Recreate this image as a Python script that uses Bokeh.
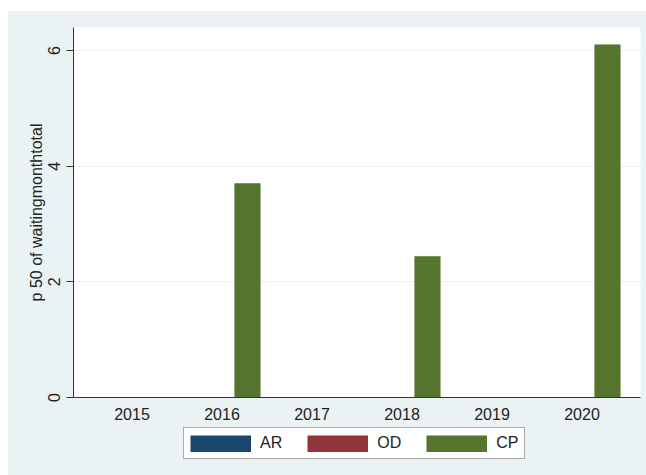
from bokeh.plotting import figure
from bokeh.models import (ColumnDataSource, FactorRange, Range1d, Legend, LegendItem,
                          FixedTicker, Spacer)
from bokeh.layouts import column, row
from bokeh.transform import dodge
from bokeh.embed import file_html
from bokeh.resources import INLINE

# ---- data ----
years = ["2015", "2016", "2017", "2018", "2019", "2020"]
ar = [0, 0, 0, 0, 0, 0]
od = [0, 0, 0, 0, 0, 0]
cp = [0, 3.70, 0, 2.44, 0, 6.10]
series_names = ["AR", "OD", "CP"]
series_colors = ["#1A476F", "#90353B", "#55752F"]
y_ticks = [0, 2, 4, 6]
y_title = "p 50 of waitingmonthtotal"

FONT = "Liberation Sans"
BG = "#EAF2F3"
TXT = "#222222"

source = ColumnDataSource(dict(year=years, AR=ar, OD=od, CP=cp))

p = figure(width=638, height=414, output_backend="svg", toolbar_location=None,
           x_range=FactorRange(*years, range_padding=0.05),
           y_range=Range1d(0, 6.4),
           min_border_left=65, min_border_right=6, min_border_top=16,
           min_border_bottom=28)
p.background_fill_color = "white"
p.border_fill_color = BG
p.outline_line_color = None

bw = 0.283
offsets = [-bw, 0.0, bw]
for name, col, off in zip(series_names, series_colors, offsets):
    p.vbar(x=dodge("year", off, range=p.x_range), top=name, width=bw, bottom=0,
           source=source, fill_color=col, line_color=col, line_width=0.6)

# grid
p.xgrid.grid_line_color = None
p.ygrid.grid_line_color = BG
p.ygrid.grid_line_width = 1
p.ygrid.ticker = FixedTicker(ticks=y_ticks)

# y axis
p.yaxis.ticker = FixedTicker(ticks=y_ticks)
p.yaxis.major_tick_out = 7
p.yaxis.major_tick_in = 0
p.yaxis.minor_tick_line_color = None
p.yaxis.major_label_orientation = "vertical"
p.yaxis.major_label_standoff = 7
p.yaxis.axis_label = y_title
p.yaxis.axis_label_standoff = 0
p.yaxis.axis_label_text_font_style = "normal"

# x axis
p.xaxis.major_tick_out = 0
p.xaxis.major_tick_in = 0
p.xaxis.major_label_standoff = 10

for ax in (p.xaxis, p.yaxis):
    ax.axis_line_color = "#333333"
    ax.major_tick_line_color = "#333333"
    ax.major_label_text_font = FONT
    ax.major_label_text_font_size = "16px"
    ax.major_label_text_color = TXT
    ax.axis_label_text_font = FONT
    ax.axis_label_text_font_size = "16px"
    ax.axis_label_text_color = TXT

# ---- legend strip (separate figure, frame aligned with the main one) ----
pl = figure(width=638, height=50, output_backend="svg", toolbar_location=None,
            x_axis_type=None, y_axis_type=None, min_border=0,
            x_range=Range1d(0, 1), y_range=Range1d(0, 1))
pl.background_fill_color = BG
pl.border_fill_color = BG
pl.outline_line_color = None
pl.xgrid.grid_line_color = None
pl.ygrid.grid_line_color = None

items = []
for name, col in zip(series_names, series_colors):
    # off-range points: nothing drawn in the strip, only the legend swatch
    r = pl.line(x=[0.2, 0.8], y=[5, 5], line_color=col, line_width=17, line_cap="butt")
    items.append(LegendItem(label=name, renderers=[r]))

legend = Legend(items=items, orientation="horizontal", location=(110, 16),
                glyph_width=61, glyph_height=17, label_standoff=9, spacing=25,
                padding=6, margin=0,
                label_text_font=FONT, label_text_font_size="16px",
                label_text_color=TXT,
                border_line_color="#555555", border_line_width=1,
                background_fill_color="white", background_fill_alpha=1.0)
pl.add_layout(legend, "center")

inner = column(p, pl, styles={"background-color": BG})
layout = column(Spacer(height=11, width=646),
                row(Spacer(width=8, height=464), inner))
open("out.html", "w").write(file_html(layout, INLINE))
